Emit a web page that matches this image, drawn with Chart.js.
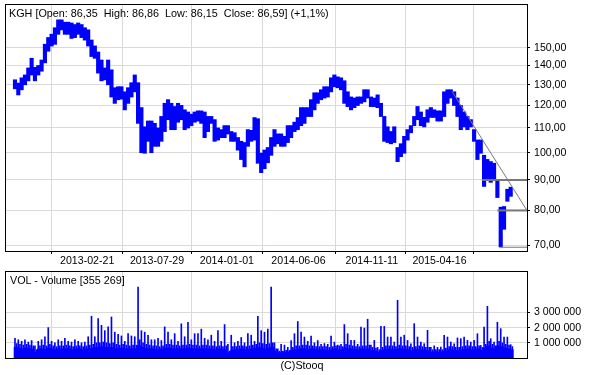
<!DOCTYPE html>
<html><head><meta charset="utf-8">
<script src="https://cdn.jsdelivr.net/npm/chart.js@4/dist/chart.umd.min.js"></script>
<style>
html,body{margin:0;padding:0;background:#fff;width:600px;height:375px;overflow:hidden;}
#wrap{position:relative;width:600px;height:375px;}
canvas{position:absolute;left:0;}
.t{position:absolute;font-family:"Liberation Sans",Arial,sans-serif;font-size:10.8px;color:#000;white-space:pre;line-height:13px;}
</style></head><body>
<div id="wrap">
<canvas id="price" style="top:0" width="600" height="270"></canvas>
<canvas id="vol" style="top:262px" width="600" height="113"></canvas>
<div class="t" id="ttl" style="left:9px;top:7px"></div>
<div class="t" id="vttl" style="left:10px;top:274px"></div>
<div class="t" id="copy" style="left:0;width:604px;text-align:center;top:359px"></div>
</div>
<script>
// ---- data (weekly samples, index = week number from start) ----
const priceLow = [128,125,127.5,130,132,135,132,135,137,141.5,
148,151,152,158,160.7,158,158,155.5,156,158,
156,154.5,151,145,144,136,132,132.5,130,124,
121,122.7,123,118,121,124,126.5,112,100,99.8,
104.5,100,102.5,102.5,104.5,108.5,113.6,109.3,109.3,112.5,
113.6,109.3,110,111,112.5,113,112,106,108.5,112,
104.5,105,106,106,107.5,104.5,104.5,101,97.4,94.7,
102.5,104.5,105,96,92.6,94,96.2,99,102.5,103.5,
102.5,102.5,104,106,108.5,109.3,111,112,115,115,
118,121,122.7,123.5,124,126.5,129,128.5,127.5,121,
119.5,118,119,120,121,121.7,123.5,119.5,119.5,119,
115,104.5,104,103.5,104,96.6,98.5,99.8,105,108,
111,113.6,111,110.5,112.5,114.6,114.6,113,113,115,
121,123.5,120,115,109.3,110.5,109.3,110.5,104.5,97.4,
99.8,87.8,90.2,89.2,90,84.1,69.5,74.4,82.9,84.5];
const priceHigh = [132.5,130.8,133.5,135,138.7,144,139,140,143,152,
156,158,162,167,167,165.5,165.5,165,164,165,
164,162,160.7,154.5,151,147.5,143,138.7,143,137.7,
128.5,129,129,126.5,128.5,131,135,131,119,110.5,
113,113,112,110,115,121,122.7,121,119.5,121,
120,118,117,116,117,117.5,117.5,117,115,115,
113.6,110,109.3,111,111,108.5,108,106,104.5,104,
109.3,109,114.5,114,99.8,101,102,106,109.3,107.5,
107.5,106.5,111,111,112.5,114.5,119,119,119,122.7,
126,126,127.5,129,129,133.5,135,134,133.5,132,
126.5,124,123.5,124,124,127.5,127.5,124,123.5,125,
121,115,110.5,108.5,110.5,102,103.5,106.5,109.3,111,
115,119.5,117,114.6,118,119,118,117.5,117.5,126.5,
127.5,127.5,126.5,123.5,120,117,115,113.6,109.3,105,
105,99,97.4,96.6,96,90.2,81,81.2,86.8,87.5];
// daily volume, millions, per week: highest day, a typical day, and the quietest level
const volPeak = [1.3,1.2,1.1,1.2,1.05,1.15,0.8,1.1,1.2,1.4,
2.0,1.1,1.0,1.2,1.1,1.3,1.1,1.05,1.2,1.1,
1.0,1.05,1.4,2.75,1.4,2.6,2.15,1.8,2.05,2.7,
1.7,1.55,1.45,1.1,1.6,1.45,1.4,4.67,1.8,1.7,
1.5,1.2,1.2,1.3,1.15,2.05,1.7,1.2,1.6,1.1,
2.25,1.4,2.35,1.2,1.6,1.6,1.9,1.3,1.2,1.5,
1.1,1.8,1.1,2.2,0.9,1.5,1.0,1.1,1.35,1.0,
1.6,1.5,1.1,2.75,1.8,1.7,1.9,4.67,1.0,0.6,
0.9,0.85,0.7,1.15,1.6,2.4,1.7,1.38,1.1,1.45,
1.0,1.15,0.9,0.95,0.9,1.45,1.05,0.85,0.9,2.2,
1.6,1.16,1.16,0.9,2.04,1.97,2.55,0.85,1.16,0.7,
2.08,2.08,1.38,1.38,1.05,3.8,1.38,1.5,1.16,0.94,
2.26,1.38,1.05,0.94,1.82,0.7,0.8,0.7,0.72,1.49,
1.38,1.05,0.94,1.32,1.27,1.38,1.16,1.05,1.16,1.6,
0.83,2.04,3.4,1.27,1.05,2.35,1.93,1.38,1.38,0.88];
const volMid = [0.95,0.9,0.85,0.9,0.85,0.8,0.55,0.8,0.85,0.8,
0.9,0.8,0.75,0.8,0.8,0.85,0.8,0.75,0.8,0.8,
0.75,0.8,0.85,0.9,1.0,1.0,1.05,1.0,0.95,1.0,
0.9,0.85,0.9,0.85,0.8,0.85,0.85,1.2,1.0,0.9,
0.85,0.8,0.8,0.75,0.8,0.9,0.9,0.85,0.85,0.8,
0.85,0.85,0.9,0.85,0.85,0.8,0.85,0.85,0.8,0.8,
0.75,0.8,0.75,0.8,0.45,0.75,0.75,0.8,0.8,0.75,
0.8,0.85,0.9,1.0,0.95,0.9,0.95,1.0,0.6,0.45,
0.45,0.5,0.5,0.7,0.8,0.8,0.85,0.85,0.8,0.8,
0.75,0.75,0.75,0.75,0.7,0.75,0.8,0.8,0.75,0.9,
0.85,0.8,0.75,0.75,0.8,0.8,0.85,0.7,0.65,0.55,
0.7,0.8,0.8,0.8,0.75,0.85,0.8,0.8,0.75,0.7,
0.75,0.8,0.75,0.7,0.7,0.55,0.55,0.55,0.55,0.65,
0.75,0.75,0.7,0.7,0.75,0.8,0.8,0.75,0.75,0.8,
0.7,0.9,1.1,0.9,0.8,1.1,1.0,0.9,0.85,0.75];
const volBase = [0.7,0.65,0.6,0.65,0.6,0.6,0.4,0.6,0.6,0.55,
0.65,0.6,0.55,0.6,0.6,0.6,0.6,0.55,0.6,0.6,
0.55,0.6,0.6,0.65,0.7,0.7,0.75,0.7,0.7,0.7,
0.65,0.6,0.65,0.6,0.6,0.6,0.6,0.8,0.7,0.65,
0.6,0.6,0.55,0.55,0.6,0.65,0.65,0.6,0.6,0.6,
0.6,0.6,0.65,0.6,0.6,0.6,0.6,0.6,0.6,0.55,
0.55,0.6,0.55,0.55,0.35,0.5,0.55,0.55,0.6,0.55,
0.55,0.6,0.65,0.7,0.65,0.6,0.65,0.7,0.45,0.35,
0.35,0.4,0.4,0.5,0.55,0.6,0.6,0.6,0.55,0.6,
0.55,0.55,0.55,0.5,0.5,0.55,0.6,0.55,0.55,0.65,
0.6,0.6,0.55,0.55,0.6,0.55,0.6,0.5,0.45,0.4,
0.5,0.55,0.6,0.55,0.55,0.6,0.6,0.55,0.55,0.5,
0.55,0.55,0.55,0.5,0.5,0.4,0.4,0.4,0.4,0.45,
0.55,0.55,0.5,0.5,0.55,0.55,0.6,0.55,0.55,0.6,
0.5,0.65,0.8,0.65,0.6,0.8,0.75,0.65,0.6,0.55];
// date axis: week positions of the labelled dates
const dateTickWeek = [0.4, 21.7, 42.7, 63.7, 85.2, 107.25, 127.6];
const dateTickLabel = ['', '2013-02-21', '2013-07-29', '2014-01-01', '2014-06-06', '2014-11-11', '2015-04-16'];
const priceTicks = [70, 80, 90, 100, 110, 120, 130, 140, 150];
const volTicks = [1, 2, 3]; // millions
// analysis lines drawn by the site
const trendLine = [{week: 131.4, value: 126.6}, {week: 153.9, value: 80}];
const levelLines = [{from: 140.3, value: 90, w: 2}, {from: 145, value: 80, w: 2}, {from: 145.7, value: 69.4, w: 1}];
const weekRange = [-2.7, 153.9];
const priceRange = [68.4, 176.9];
const volMax = 5.66;
const quote = {name: 'KGH', open: '86,35', high: '86,86', low: '86,15', close: '86,59', change: '+1,1%'};
const volTitle = 'VOL - Volume [355 269]';
const copyright = '(C)Stooq';

// ---- texts ----
document.getElementById('ttl').textContent =
  quote.name + ' [Open: ' + quote.open + '  High: ' + quote.high + '  Low: ' + quote.low + '  Close: ' + quote.close + '] (' + quote.change + ')';
document.getElementById('vttl').textContent = volTitle;
document.getElementById('copy').textContent = copyright;

Chart.defaults.font.family = '"Liberation Sans", Arial, sans-serif';
Chart.defaults.font.size = 10.6;
Chart.defaults.color = '#000';

const frame = {
  id: 'frame',
  afterDraw(chart) {
    const a = chart.chartArea, c = chart.ctx;
    c.save(); c.strokeStyle = '#000'; c.lineWidth = 1;
    c.strokeRect(Math.round(a.left) - 0.5, Math.round(a.top) - 0.5, Math.round(a.right - a.left) + 1, Math.round(a.bottom - a.top) + 1);
    c.restore();
  }
};
const GRID = '#d9d9d9';
const BLUE = '#0000ff';
const fmtVol = v => String(Math.round(v * 1e6)).replace(/\B(?=(\d{3})+(?!\d))/g, ' ');

function xScale(showLabels, h) {
  return {
    type: 'linear', min: weekRange[0], max: weekRange[1], offset: false,
    afterBuildTicks: s => { s.ticks = dateTickWeek.map(v => ({value: v})); },
    afterFit: s => { s.height = h; s.paddingLeft = 0; s.paddingRight = 0; },
    grid: {color: GRID, lineWidth: 1, drawTicks: showLabels, tickLength: 3, tickColor: '#000'},
    border: {display: false},
    ticks: {display: showLabels, autoSkip: false, maxRotation: 0, padding: 1,
      callback: (v, i) => dateTickLabel[i]}
  };
}

const priceData = priceLow.map((lo, i) => ({x: i, y: [lo, priceHigh[i]]}));
const lineSets = [{
  type: 'line', data: trendLine.map(p => ({x: p.week, y: p.value})),
  borderColor: '#7a7a7a', borderWidth: 1, pointRadius: 0, order: 0
}].concat(levelLines.map(l => ({
  type: 'line', data: [{x: l.from, y: l.value}, {x: weekRange[1], y: l.value}],
  borderColor: '#777', borderWidth: l.w, pointRadius: 0, order: 0
})));

new Chart(document.getElementById('price'), {
  type: 'bar',
  data: {datasets: [{
    type: 'bar', data: priceData, backgroundColor: BLUE, borderWidth: 0,
    barPercentage: 1, categoryPercentage: 1, inflateAmount: 0.4, order: 1
  }].concat(lineSets)},
  options: {
    responsive: false, animation: false, events: [],
    layout: {padding: {left: 6, top: 5, right: 0, bottom: 0}},
    plugins: {legend: {display: false}, tooltip: {enabled: false}},
    scales: {
      x: xScale(true, 19),
      y: {
        type: 'logarithmic', position: 'right', min: priceRange[0], max: priceRange[1],
        afterBuildTicks: s => { s.ticks = priceTicks.map(v => ({value: v})); },
        afterFit: s => { s.width = 73; s.paddingTop = 0; s.paddingBottom = 0; },
        grid: {color: GRID, lineWidth: 1, tickLength: 3, tickColor: '#000'},
        border: {display: false},
        ticks: {autoSkip: false, padding: 4, callback: v => Number(v).toFixed(2).replace('.', ',')}
      }
    }
  },
  plugins: [frame]
});

new Chart(document.getElementById('vol'), {
  type: 'bar',
  data: {datasets: [
    {data: volPeak.map((v, i) => ({x: i, y: v})), backgroundColor: BLUE, borderWidth: 0,
     barThickness: 1, grouped: false},
    {data: volMid.map((v, i) => ({x: i + 0.5, y: v})), backgroundColor: BLUE, borderWidth: 0,
     barThickness: 1, grouped: false},
    {data: volBase.map((v, i) => ({x: i + 0.25, y: v})), backgroundColor: BLUE, borderWidth: 0,
     barThickness: 3.6, grouped: false}
  ]},
  options: {
    responsive: false, animation: false, events: [],
    layout: {padding: {left: 6, top: 10, right: 0, bottom: 0}},
    plugins: {legend: {display: false}, tooltip: {enabled: false}},
    scales: {
      x: xScale(false, 17),
      y: {
        type: 'linear', position: 'right', min: 0, max: volMax,
        afterBuildTicks: s => { s.ticks = volTicks.map(v => ({value: v})); },
        afterFit: s => { s.width = 73; s.paddingTop = 0; s.paddingBottom = 0; },
        grid: {color: GRID, lineWidth: 1, tickLength: 3, tickColor: '#000'},
        border: {display: false},
        ticks: {autoSkip: false, padding: 4, callback: v => fmtVol(v)}
      }
    }
  },
  plugins: [frame]
});
</script>
</body></html>
